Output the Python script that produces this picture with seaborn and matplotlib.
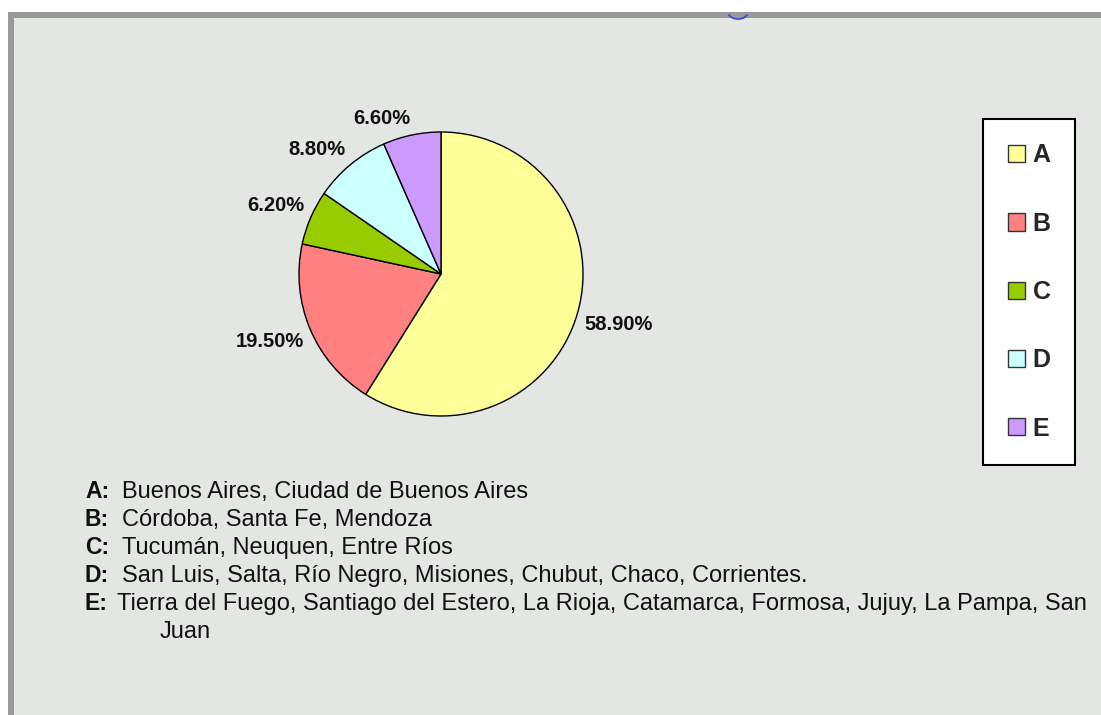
import numpy as np
import matplotlib
matplotlib.use("Agg")
import matplotlib.pyplot as plt
from matplotlib.patches import Rectangle, Patch, Arc
import seaborn as sns

# data
groups = ['A', 'B', 'C', 'D', 'E']
shares = [58.9, 19.5, 6.2, 8.8, 6.6]
pct_labels = ['58.90%', '19.50%', '6.20%', '8.80%', '6.60%']
colors = ['#ffff99', '#ff8080', '#99cc00', '#ccffff', '#cc99ff']
provinces = [
    'Buenos Aires, Ciudad de Buenos Aires',
    'Córdoba, Santa Fe, Mendoza',
    'Tucumán, Neuquen, Entre Ríos',
    'San Luis, Salta, Río Negro, Misiones, Chubut, Chaco, Corrientes.',
    'Tierra del Fuego, Santiago del Estero, La Rioja, Catamarca, Formosa, Jujuy, La Pampa, San',
]
wrap_line = 'Juan'

sns.set_style("white")
plt.rcParams['font.family'] = ['Liberation Sans', 'DejaVu Sans']

W, H = 1101, 715
fig = plt.figure(figsize=(W / 100, H / 100), dpi=100, facecolor='white')

# panel with grey frame on top and left
fig.patches.append(Rectangle((8 / W, 0), 1, (H - 12) / H, transform=fig.transFigure,
                             facecolor='#999999', edgecolor='none', zorder=-2))
fig.patches.append(Rectangle((14 / W, 0), 1, (H - 18) / H, transform=fig.transFigure,
                             facecolor='#e3e6e3', edgecolor='none', zorder=-1))

# pie
cx, cy, r = 441, 274, 142
ax = fig.add_axes([(cx - r) / W, (H - cy - r) / H, 2 * r / W, 2 * r / H])
ax.patch.set_visible(False)
pal = sns.color_palette(colors)
wedges, texts = ax.pie(shares, labels=pct_labels, colors=pal, startangle=90,
                       counterclock=False, labeldistance=1.05,
                       wedgeprops=dict(edgecolor='black', linewidth=1),
                       textprops=dict(fontsize=14.5, fontweight='bold', color='#111111'))
# labels above the centre sit on their anchor, those below hang from it
for t in texts:
    t.set_va('bottom' if t.get_position()[1] > 0 else 'top')
ax.set_xlim(-1.0, 1.0)
ax.set_ylim(-1.0, 1.0)
ax.set_aspect('equal')
ax.axis('off')

# legend box
handles = [Patch(facecolor=c, edgecolor='#333333', linewidth=1) for c in pal]
leg = fig.legend(handles, groups, loc='center', bbox_to_anchor=(1029 / W, (H - 292) / H),
                 frameon=True, fancybox=False, framealpha=1, prop=dict(size=18, weight='bold'),
                 handlelength=0.68, handleheight=0.68, handletextpad=0.32,
                 labelspacing=1.77, borderpad=0.97, borderaxespad=0)
leg.get_frame().set_edgecolor('black')
leg.get_frame().set_linewidth(1.5)
leg.get_frame().set_facecolor('white')

# description lines below the chart
y0, dy = 492, 28
for i, (g, txt) in enumerate(zip(groups, provinces)):
    y = (H - (y0 + i * dy)) / H
    fig.text(85 / W, y, g + ':', fontsize=16.5, fontweight='bold', va='center', color='#111111')
    x_txt = 117 if g == 'E' else 122
    fig.text(x_txt / W, y, txt, fontsize=17, va='center', color='#111111')
fig.text(160 / W, (H - (y0 + 5 * dy)) / H, wrap_line, fontsize=17, va='center', color='#111111')

# small blue mark at the top edge
fig.patches.append(Arc((738 / W, (H - 12) / H), 20 / W, 14 / H, theta1=200, theta2=340,
                       transform=fig.transFigure, color='#3344dd', linewidth=1.2))

fig.savefig('out.png', dpi=100, facecolor='white')
